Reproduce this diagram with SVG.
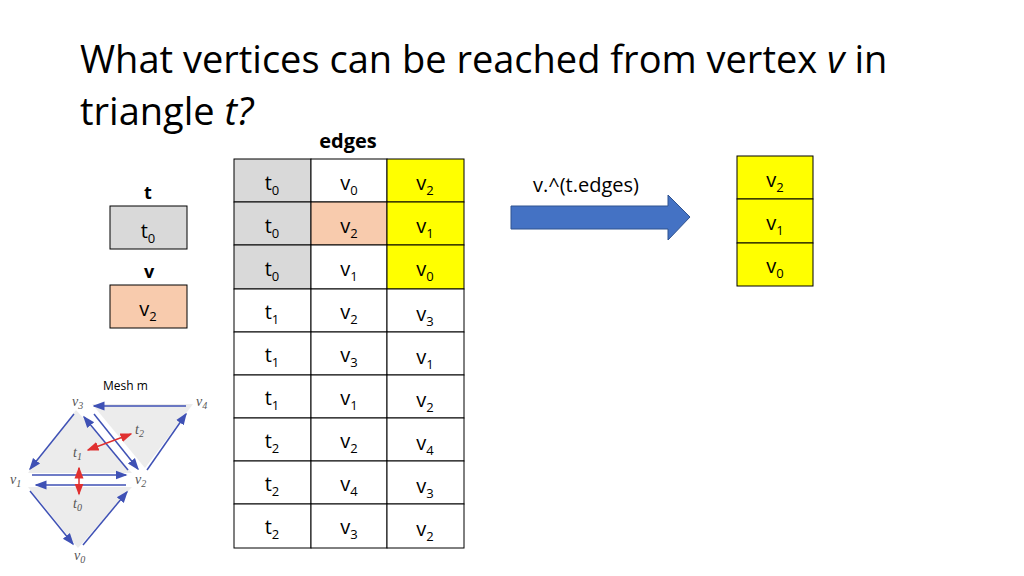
<svg xmlns="http://www.w3.org/2000/svg" width="1024" height="576" viewBox="0 0 1024 576">
<style>
text{font-family:"Open Sans","Liberation Sans",sans-serif;fill:#000}
.c{font-size:20px;text-anchor:middle}
.s{font-size:13px}
.b{stroke:#000;stroke-width:1}
.g{fill:#d9d9d9}.w{fill:#fff}.y{fill:#ffff00}.o{fill:#f8cbad}
.m{font-family:"Liberation Serif",serif;font-style:italic;fill:#555;font-size:14px}
.e{stroke:#3f51b5;stroke-width:1.5;fill:none;marker-end:url(#bh)}
.r{stroke:#e03030;stroke-width:1.5;fill:none;marker-end:url(#rh);marker-start:url(#rs)}
</style>
<defs>
<marker id="bh" markerWidth="8" markerHeight="8" refX="7" refY="4" orient="auto"><path d="M0,1 L8,4 L0,7z" fill="#3f51b5"/></marker>
<marker id="rh" markerWidth="8" markerHeight="8" refX="7" refY="4" orient="auto"><path d="M0,1 L8,4 L0,7z" fill="#e03030"/></marker>
<marker id="rs" markerWidth="8" markerHeight="8" refX="1" refY="4" orient="auto"><path d="M8,1 L0,4 L8,7z" fill="#e03030"/></marker>
</defs>
<rect width="1024" height="576" fill="#fff"/>
<text x="80" y="73" font-size="38" fill="#333">What vertices can be reached from vertex <tspan font-style="italic">v</tspan> in</text>
<text x="80" y="125" font-size="38" fill="#333">triangle <tspan font-style="italic">t?</tspan></text>
<text x="348" y="148" font-size="20" font-weight="bold" text-anchor="middle">edges</text>
<g id="left">
<text x="148" y="199" class="c" font-weight="bold" style="font-size:18px">t</text>
<rect x="110" y="206" width="77" height="43" class="b g"/>
<text x="148" y="238" class="c">t<tspan class="s" dy="5">0</tspan></text>
<text x="149" y="278" class="c" font-weight="bold" style="font-size:18px">v</text>
<rect x="110" y="285" width="77" height="43" class="b o"/>
<text x="148" y="316" class="c">v<tspan class="s" dy="5">2</tspan></text>
</g>
<g id="table">
<g class="b">
<rect x="234" y="159" width="77" height="43" class="g"/><rect x="311" y="159" width="76" height="43" class="w"/><rect x="387" y="159" width="77" height="43" class="y"/>
<rect x="234" y="202" width="77" height="43" class="g"/><rect x="311" y="202" width="76" height="43" class="o"/><rect x="387" y="202" width="77" height="43" class="y"/>
<rect x="234" y="245" width="77" height="44" class="g"/><rect x="311" y="245" width="76" height="44" class="w"/><rect x="387" y="245" width="77" height="44" class="y"/>
<rect x="234" y="289" width="77" height="43" class="w"/><rect x="311" y="289" width="76" height="43" class="w"/><rect x="387" y="289" width="77" height="43" class="w"/>
<rect x="234" y="332" width="77" height="43" class="w"/><rect x="311" y="332" width="76" height="43" class="w"/><rect x="387" y="332" width="77" height="43" class="w"/>
<rect x="234" y="375" width="77" height="43" class="w"/><rect x="311" y="375" width="76" height="43" class="w"/><rect x="387" y="375" width="77" height="43" class="w"/>
<rect x="234" y="418" width="77" height="43" class="w"/><rect x="311" y="418" width="76" height="43" class="w"/><rect x="387" y="418" width="77" height="43" class="w"/>
<rect x="234" y="461" width="77" height="43" class="w"/><rect x="311" y="461" width="76" height="43" class="w"/><rect x="387" y="461" width="77" height="43" class="w"/>
<rect x="234" y="504" width="77" height="44" class="w"/><rect x="311" y="504" width="76" height="44" class="w"/><rect x="387" y="504" width="77" height="44" class="w"/>
</g>
<text x="272" y="190" class="c">t<tspan class="s" dy="5">0</tspan></text><text x="349" y="190" class="c">v<tspan class="s" dy="5">0</tspan></text><text x="425" y="190" class="c">v<tspan class="s" dy="5">2</tspan></text>
<text x="272" y="233" class="c">t<tspan class="s" dy="5">0</tspan></text><text x="349" y="233" class="c">v<tspan class="s" dy="5">2</tspan></text><text x="425" y="233" class="c">v<tspan class="s" dy="5">1</tspan></text>
<text x="272" y="276" class="c">t<tspan class="s" dy="5">0</tspan></text><text x="349" y="276" class="c">v<tspan class="s" dy="5">1</tspan></text><text x="425" y="276" class="c">v<tspan class="s" dy="5">0</tspan></text>
<text x="272" y="319" class="c">t<tspan class="s" dy="5">1</tspan></text><text x="349" y="319" class="c">v<tspan class="s" dy="5">2</tspan></text><text x="425" y="321" class="c">v<tspan class="s" dy="5">3</tspan></text>
<text x="272" y="362" class="c">t<tspan class="s" dy="5">1</tspan></text><text x="349" y="362" class="c">v<tspan class="s" dy="5">3</tspan></text><text x="425" y="364" class="c">v<tspan class="s" dy="5">1</tspan></text>
<text x="272" y="405" class="c">t<tspan class="s" dy="5">1</tspan></text><text x="349" y="405" class="c">v<tspan class="s" dy="5">1</tspan></text><text x="425" y="407" class="c">v<tspan class="s" dy="5">2</tspan></text>
<text x="272" y="448" class="c">t<tspan class="s" dy="5">2</tspan></text><text x="349" y="448" class="c">v<tspan class="s" dy="5">2</tspan></text><text x="425" y="450" class="c">v<tspan class="s" dy="5">4</tspan></text>
<text x="272" y="491" class="c">t<tspan class="s" dy="5">2</tspan></text><text x="349" y="491" class="c">v<tspan class="s" dy="5">4</tspan></text><text x="425" y="493" class="c">v<tspan class="s" dy="5">3</tspan></text>
<text x="272" y="534" class="c">t<tspan class="s" dy="5">2</tspan></text><text x="349" y="534" class="c">v<tspan class="s" dy="5">3</tspan></text><text x="425" y="536" class="c">v<tspan class="s" dy="5">2</tspan></text>
</g>
<g id="arrow">
<text x="586" y="192" font-size="20" text-anchor="middle">v.^(t.edges)</text>
<path d="M511,206 H668 V195 L690,217 L668,240 V229 H511 Z" fill="#4472c4" stroke="#2f528f" stroke-width="1"/>
</g>
<g id="result" class="b">
<rect x="737" y="156" width="76" height="43" class="y"/><rect x="737" y="199" width="76" height="44" class="y"/><rect x="737" y="243" width="76" height="43" class="y"/>
</g>
<text x="775" y="187" class="c">v<tspan class="s" dy="5">2</tspan></text>
<text x="775" y="230" class="c">v<tspan class="s" dy="5">1</tspan></text>
<text x="775" y="273" class="c">v<tspan class="s" dy="5">0</tspan></text>
<g id="mesh">
<text x="103" y="390" font-family="Liberation Sans" font-size="12">Mesh m</text>
<path d="M76,410 L28,473 H132 Z" fill="#ececec"/>
<path d="M28,487 H132 L78,548 Z" fill="#ececec"/>
<path d="M92,404 H193 L145,468 Z" fill="#ececec"/>
<line x1="74" y1="414" x2="30" y2="469" class="e"/>
<line x1="32" y1="475" x2="126" y2="475" class="e"/>
<line x1="128" y1="470" x2="84" y2="417" class="e"/>
<line x1="126" y1="485" x2="36" y2="485" class="e"/>
<line x1="30" y1="491" x2="73" y2="544" class="e"/>
<line x1="83" y1="545" x2="127" y2="492" class="e"/>
<line x1="186" y1="406" x2="94" y2="406" class="e"/>
<line x1="94" y1="414" x2="138" y2="469" class="e"/>
<line x1="147" y1="470" x2="186" y2="414" class="e"/>
<line x1="88" y1="450" x2="131" y2="434" class="r"/>
<line x1="79" y1="468" x2="79" y2="494" class="r"/>
<text x="72" y="406" class="m">v<tspan font-size="10" dy="3">3</tspan></text>
<text x="196" y="406" class="m">v<tspan font-size="10" dy="3">4</tspan></text>
<text x="10" y="484" class="m">v<tspan font-size="10" dy="3">1</tspan></text>
<text x="135" y="484" class="m">v<tspan font-size="10" dy="3">2</tspan></text>
<text x="74" y="560" class="m">v<tspan font-size="10" dy="3">0</tspan></text>
<text x="135" y="434" class="m">t<tspan font-size="10" dy="3">2</tspan></text>
<text x="73" y="457" class="m">t<tspan font-size="10" dy="3">1</tspan></text>
<text x="73" y="508" class="m">t<tspan font-size="10" dy="3">0</tspan></text>
</g>
</svg>
